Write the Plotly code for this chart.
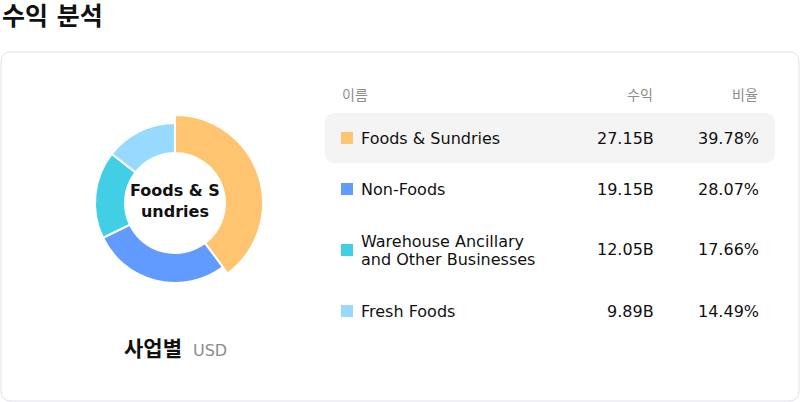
import plotly.graph_objects as go

# revenue breakdown by segment (USD)
segments = ["Foods & Sundries", "Non-Foods", "Warehouse Ancillary and Other Businesses", "Fresh Foods"]
segment_labels = ["Foods & Sundries", "Non-Foods", "Warehouse Ancillary<br>and Other Businesses", "Fresh Foods"]
revenue = [27.15, 19.15, 12.05, 9.89]
revenue_text = ["27.15B", "19.15B", "12.05B", "9.89B"]
share_text = ["39.78%", "28.07%", "17.66%", "14.49%"]
colors = ["#FFC470", "#619BFF", "#41CFE6", "#97D9FF"]
center_label = "Foods & S<br>undries"

W, H = 800, 402
FONT = "DejaVu Sans, Noto Sans CJK KR, sans-serif"


def px(x0, x1, y0, y1):
    # pixel box -> paper domain
    return [x0 / W, x1 / W], [1 - y1 / H, 1 - y0 / H]


def rounded(x0, y0, x1, y1, r):
    pts = [(x0 + r, y0), (x1 - r, y0), (x1, y0), (x1, y0 + r), (x1, y1 - r), (x1, y1), (x1 - r, y1),
           (x0 + r, y1), (x0, y1), (x0, y1 - r), (x0, y0 + r), (x0, y0), (x0 + r, y0)]
    p = [(a / W, 1 - b / H) for a, b in pts]
    return ("M {},{} L {},{} Q {},{} {},{} L {},{} Q {},{} {},{} L {},{} Q {},{} {},{} L {},{} Q {},{} {},{} Z"
            .format(*[v for q in p for v in q]))


fig = go.Figure()

# highlighted slice sits on a slightly larger ring
cx, cy = 175, 203
r_big, r_small, r_hole = 88, 80, 50

dx, dy = px(cx - r_big, cx + r_big, cy - r_big, cy + r_big)
fig.add_trace(go.Pie(
    labels=segments, values=revenue, sort=False, direction="clockwise", rotation=0,
    hole=r_hole / r_big, domain=dict(x=dx, y=dy), textinfo="none", hoverinfo="label+percent",
    marker=dict(colors=[colors[0]] + ["rgba(0,0,0,0)"] * 3,
                line=dict(color="white", width=[2, 0, 0, 0])),
    showlegend=False,
))
dx, dy = px(cx - r_small, cx + r_small, cy - r_small, cy + r_small)
fig.add_trace(go.Pie(
    labels=segments, values=revenue, sort=False, direction="clockwise", rotation=0,
    hole=r_hole / r_small, domain=dict(x=dx, y=dy), textinfo="none", hoverinfo="label+percent",
    marker=dict(colors=["rgba(0,0,0,0)"] + colors[1:],
                line=dict(color="white", width=[0, 2, 2, 2])),
    showlegend=False,
))

shapes = [
    dict(type="path", xref="paper", yref="paper", layer="below", path=rounded(1, 52, 799, 401, 10),
         line=dict(color="#E3E1EA", width=1), fillcolor="white"),
    dict(type="path", xref="paper", yref="paper", layer="below", path=rounded(325, 113, 775, 163, 10),
         line=dict(width=0), fillcolor="#F4F4F4"),
]

annotations = [
    dict(text="<b>수익 분석</b>", x=0, y=1 - 16 / H, xanchor="left", font=dict(size=25, color="#111")),
    dict(text="<b>" + center_label + "</b>", x=cx / W, y=1 - 201 / H, xanchor="center",
         font=dict(size=16, color="#111")),
    dict(text="<b>사업별</b>", x=184 / W, y=1 - 349 / H, xanchor="right", font=dict(size=21, color="#111")),
    dict(text="USD", x=191 / W, y=1 - 350 / H, xanchor="left", font=dict(size=16, color="#8C8C8C")),
    dict(text="이름", x=340 / W, y=1 - 95 / H, xanchor="left", font=dict(size=14, color="#8C8C8C")),
    dict(text="수익", x=655 / W, y=1 - 95 / H, xanchor="right", font=dict(size=14, color="#8C8C8C")),
    dict(text="비율", x=760 / W, y=1 - 95 / H, xanchor="right", font=dict(size=14, color="#8C8C8C")),
]

row_y = [138, 189, 250, 311]
for i, yy in enumerate(row_y):
    yp = 1 - yy / H
    shapes.append(dict(type="rect", xref="paper", yref="paper",
                       x0=341 / W, x1=353 / W, y0=yp - 6 / H, y1=yp + 6 / H,
                       line=dict(width=0), fillcolor=colors[i]))
    lines = segment_labels[i].split("<br>")
    for j, line in enumerate(lines):
        ly = yy + 18 * (j - (len(lines) - 1) / 2)
        annotations.append(dict(text=line, x=359 / W, y=1 - ly / H, xanchor="left",
                                font=dict(size=16, color="#111")))
    annotations += [
        dict(text=revenue_text[i], x=656 / W, y=yp, xanchor="right", font=dict(size=16, color="#111")),
        dict(text=share_text[i], x=761 / W, y=yp, xanchor="right", font=dict(size=16, color="#111")),
    ]

for a in annotations:
    a.update(xref="paper", yref="paper", showarrow=False, yanchor="middle")

fig.update_layout(
    width=W, height=H, margin=dict(l=0, r=0, t=0, b=0),
    paper_bgcolor="white", plot_bgcolor="white",
    font=dict(family=FONT),
    shapes=shapes, annotations=annotations,
)

fig.write_html("out.html", config={"displayModeBar": False},
               post_script="document.body.style.margin='0';")
